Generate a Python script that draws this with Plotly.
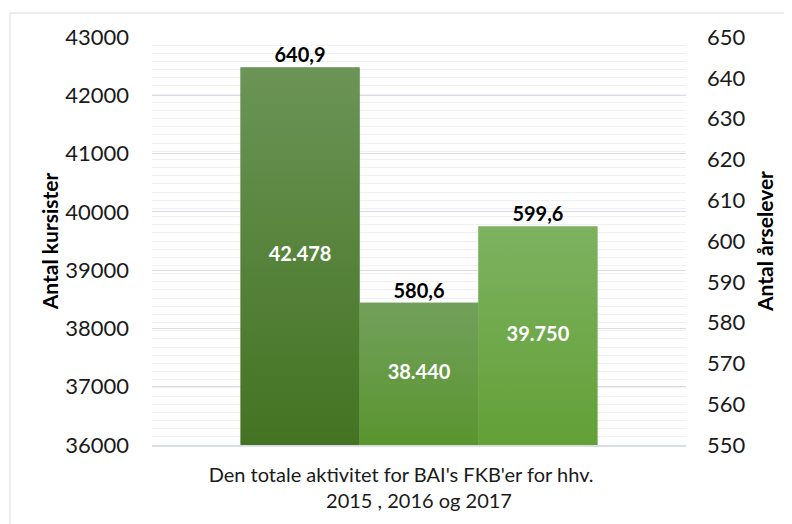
import plotly.graph_objects as go

# ---- data ----
years = ["2015", "2016", "2017"]
kursister = [42478, 38440, 39750]          # left axis (Antal kursister)
arselever = [640.9, 580.6, 599.6]          # right axis (Antal årselever)
x_label = "Den totale aktivitet for BAI's FKB'er for hhv." + "\u00a0" * 7 + "<br>2015 , 2016 og 2017"
left_ticks = [36000, 37000, 38000, 39000, 40000, 41000, 42000, 43000]
right_ticks = [550, 560, 570, 580, 590, 600, 610, 620, 630, 640, 650]

# ---- styles ----
top_colors = ["#6B9456", "#72A05C", "#7DB260"]
bottom_colors = ["#437322", "#5A952F", "#63A037"]
mid_colors = ["#577F3C", "#659A46", "#70A94C"]
FONT = "Lato"
y_min, y_max = left_ticks[0], left_ticks[-1]
pos = list(range(len(kursister)))

fig = go.Figure()

# real bars
fig.add_trace(go.Bar(x=pos, y=kursister, width=1, marker=dict(color=mid_colors, line=dict(width=0)),
                     hoverinfo="skip", showlegend=False))

# gradient overlay for each bar (same extents, built from the data)
for i, v in enumerate(kursister):
    fig.add_trace(go.Scatter(
        x=[i - 0.5, i + 0.5, i + 0.5, i - 0.5, i - 0.5],
        y=[y_min, y_min, v, v, y_min],
        mode="lines", line=dict(width=0), fill="toself",
        fillgradient=dict(type="vertical",
                          colorscale=[[0, bottom_colors[i]], [1, top_colors[i]]]),
        hoverinfo="skip", showlegend=False))

# inside value labels (kursister)
fig.add_trace(go.Scatter(
    x=pos, y=[(y_min + v) / 2 for v in kursister], mode="text",
    text=[f"{v:,}".replace(",", ".") for v in kursister],
    textposition="middle center",
    textfont=dict(family=FONT, size=20, color="white", weight="bold"),
    hoverinfo="skip", showlegend=False))

# top labels (årselever)
fig.add_trace(go.Scatter(
    x=pos, y=kursister, mode="text",
    text=[f"{v:.1f}".replace(".", ",") for v in arselever],
    textposition="top center",
    textfont=dict(family=FONT, size=20, color="black", weight="bold"),
    hoverinfo="skip", showlegend=False))

# invisible series on secondary axis
fig.add_trace(go.Scatter(x=pos, y=arselever, yaxis="y2", mode="markers",
                         marker=dict(opacity=0), hoverinfo="skip", showlegend=False))

OFF = 8  # page body margin
L, R, T, B = 152 - OFF, 106, 37 - OFF, 79
W, H = 792 - OFF, 524 - OFF
pw, ph = W - L - R, H - T - B

fig.update_layout(
    width=W, height=H,
    margin=dict(l=L, r=R, t=T, b=B, autoexpand=False),
    paper_bgcolor="white", plot_bgcolor="white",
    font=dict(family=FONT, size=20, color="#1a1a1a"),
    showlegend=False,
    xaxis=dict(range=[-1.245, 3.245], tickvals=[1], ticktext=[x_label], automargin=False,
               showgrid=False, zeroline=False, showline=True, linecolor="#D9DEE6", linewidth=2,
               ticks="", ticklabelstandoff=11,
               tickfont=dict(family=FONT, size=20, color="#1a1a1a"), fixedrange=True),
    yaxis=dict(range=[y_min, y_max], tickvals=left_ticks, tickformat="d", automargin=False,
               showgrid=True, gridcolor="#D8DDE6", gridwidth=1, zeroline=False, showline=False,
               ticks="", ticklabelstandoff=22,
               tickfont=dict(family=FONT, size=22, color="#1a1a1a"),
               title=dict(text="Antal kursister", standoff=0,
                          font=dict(family=FONT, size=21, color="black", weight="bold"))),
    yaxis2=dict(range=[right_ticks[0], right_ticks[-1]], tickvals=right_ticks, overlaying="y", side="right",
                automargin=False,
                showgrid=True, gridcolor="#EEF0F4", gridwidth=1, zeroline=False, showline=False,
                minor=dict(dtick=2, showgrid=True, gridcolor="#EEF0F4", gridwidth=1),
                ticks="", ticklabelstandoff=20,
                tickfont=dict(family=FONT, size=22, color="#1a1a1a"),
                title=dict(text="Antal årselever", standoff=13,
                           font=dict(family=FONT, size=21, color="black", weight="bold"))),
    shapes=[dict(type="rect", xref="paper", yref="paper",
                 x0=(10 - OFF - L) / pw, x1=(W + 20 - L) / pw,
                 y0=(H - B - (H + 20)) / ph, y1=(H - B - (13 - OFF)) / ph,
                 line=dict(color="#D9D9D9", width=1), fillcolor="rgba(0,0,0,0)", layer="below")],
)

fig.write_html("out.html")
